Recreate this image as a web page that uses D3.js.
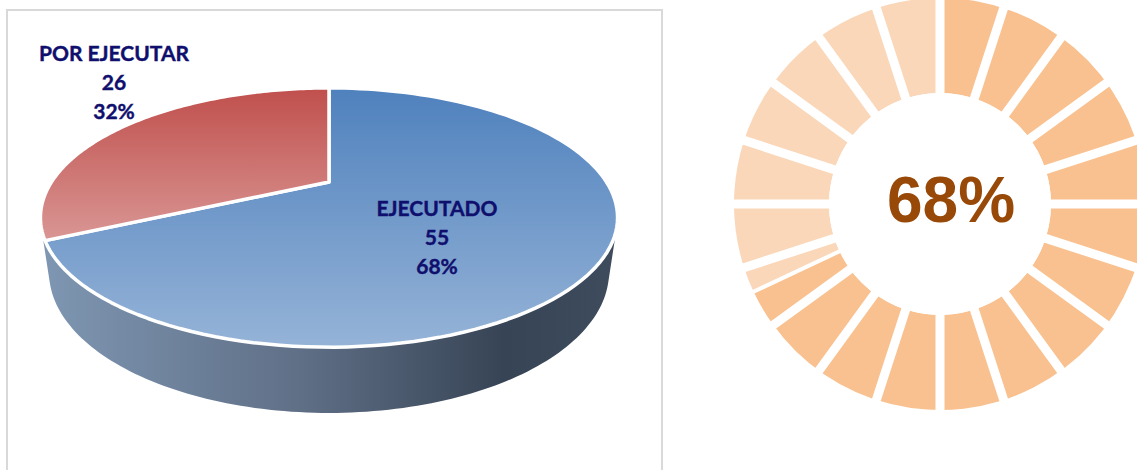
<!DOCTYPE html>
<html lang="en">
<head>
    <meta charset="UTF-8">
    <title>Avance de ejecución</title>
    <script src="https://d3js.org/d3.v7.min.js"></script>
    <style>
        body { margin: 0; background: #fff; }
        svg { display: block; }
    </style>
</head>
<body>
    <svg width="1137" height="470"></svg>

    <script>
        // data
        const categories = ["EJECUTADO", "POR EJECUTAR"];
        const values = [55, 26];
        const gaugeParts = ["Ejecutado", "Pendiente"];
        const gaugeValues = [68, 32];
        const gaugeSegments = 20;

        const svg = d3.select('svg');
        const defs = svg.append('defs');

        const total = d3.sum(values);
        const pct = values.map(v => Math.round(v / total * 100));

        // chart frame
        svg.append('rect')
            .attr('x', 7).attr('y', 10)
            .attr('width', 655).attr('height', 480)
            .attr('fill', 'none')
            .attr('stroke', '#d9d9d9')
            .attr('stroke-width', 2);

        // --- 3D pie: simple perspective camera looking down on a disc ---
        const cam = { cx: 329, cy: 182, F: 913, D: 3.29, s: 0.432, c: 0.902, h: 0.217 };
        function project(phi, r, y) {
            const X = r * Math.sin(phi), Z = r * Math.cos(phi);
            const d = cam.D + cam.c * Z - cam.s * y;
            return [cam.cx + cam.F * X / d, cam.cy - cam.F * (cam.s * Z + cam.c * y) / d];
        }

        const pie = d3.pie().sort(null);
        const arcs = pie(values);

        // gradients
        const topGrad = [
            { id: 'gBlue', from: '#4f81bd', to: '#95b3d7', y1: 88, y2: 347 },
            { id: 'gRed', from: '#c0504d', to: '#d99694', y1: 89, y2: 240 }
        ];
        topGrad.forEach(g => {
            const lg = defs.append('linearGradient').attr('id', g.id)
                .attr('gradientUnits', 'userSpaceOnUse')
                .attr('x1', 0).attr('x2', 0).attr('y1', g.y1).attr('y2', g.y2);
            lg.append('stop').attr('offset', '0%').attr('stop-color', g.from);
            lg.append('stop').attr('offset', '100%').attr('stop-color', g.to);
        });
        const sg = defs.append('linearGradient').attr('id', 'gSide')
            .attr('gradientUnits', 'userSpaceOnUse')
            .attr('x1', 40).attr('x2', 620).attr('y1', 0).attr('y2', 0);
        [['0%', '#7f97b3'], ['45%', '#5f6f86'], ['80%', '#374455'], ['100%', '#3f4c5e']]
            .forEach(([o, c]) => sg.append('stop').attr('offset', o).attr('stop-color', c));

        const fills = ['url(#gBlue)', 'url(#gRed)'];

        // visible part of the cylinder wall (front only)
        const lim = Math.acos(-1 / (cam.D * cam.c));
        const visA = lim, visB = 2 * Math.PI - lim;
        const line = d3.line();
        const steps = 120;

        const wallTop = d3.range(steps + 1).map(k => project(visA + (visB - visA) * k / steps, 1, 0));
        const wallBot = d3.range(steps + 1).map(k => project(visB - (visB - visA) * k / steps, 1, -cam.h));
        svg.append('path')
            .attr('d', line(wallTop.concat(wallBot)) + 'Z')
            .attr('fill', 'url(#gSide)');

        // top faces
        svg.selectAll('path.slice')
            .data(arcs)
            .enter().append('path')
            .attr('class', 'slice')
            .attr('d', a => {
                const pts = [project(0, 0, 0)].concat(
                    d3.range(steps + 1).map(k => project(a.startAngle + (a.endAngle - a.startAngle) * k / steps, 1, 0)));
                return line(pts) + 'Z';
            })
            .attr('fill', (a, i) => fills[i])
            .attr('stroke', '#fff')
            .attr('stroke-width', 3.5)
            .attr('stroke-linejoin', 'round');

        // labels
        const labelPos = [[437, 216], [114, 61]];
        categories.forEach((name, i) => {
            const t = svg.append('text')
                .attr('x', labelPos[i][0]).attr('y', labelPos[i][1])
                .attr('text-anchor', 'middle')
                .attr('font-family', 'Lato, sans-serif')
                .attr('font-weight', 'bold')
                .attr('font-size', 21)
                .attr('fill', '#0f0f6e')
                .attr('stroke', '#0f0f6e')
                .attr('stroke-width', 0.4);
            [name, values[i], pct[i] + '%'].forEach((s, j) => {
                t.append('tspan').attr('x', labelPos[i][0]).attr('dy', j ? 29 : 0).text(s);
            });
        });

        // --- segmented ring gauge ---
        const g = svg.append('g').attr('transform', 'translate(940,204)');
        const rIn = 111, rOut = 206;
        const ringArc = d3.arc().innerRadius(rIn).outerRadius(rOut);
        const ringPie = d3.pie().sort(null);
        const ringColors = ['#f9c18f', '#fad7b9'];

        g.selectAll('path.part')
            .data(ringPie(gaugeValues))
            .enter().append('path')
            .attr('class', 'part')
            .attr('d', ringArc)
            .attr('fill', (d, i) => ringColors[i])
            .append('title').text((d, i) => gaugeParts[i] + ': ' + gaugeValues[i] + '%');

        const ang = d3.scaleLinear().domain([0, gaugeSegments]).range([0, 2 * Math.PI]);
        g.selectAll('line.sep')
            .data(d3.range(gaugeSegments))
            .enter().append('line')
            .attr('class', 'sep')
            .attr('x1', 0).attr('y1', 0)
            .attr('x2', k => Math.sin(ang(k)) * (rOut + 10))
            .attr('y2', k => -Math.cos(ang(k)) * (rOut + 10))
            .attr('stroke', '#fff')
            .attr('stroke-width', 9);

        const split = ringPie(gaugeValues)[0].endAngle;
        g.append('line')
            .attr('x1', 0).attr('y1', 0)
            .attr('x2', Math.sin(split) * (rOut + 10))
            .attr('y2', -Math.cos(split) * (rOut + 10))
            .attr('stroke', '#fff')
            .attr('stroke-width', 4);

        g.append('circle').attr('r', rIn).attr('fill', '#fff');

        g.append('text')
            .attr('x', 11).attr('y', 18)
            .attr('text-anchor', 'middle')
            .attr('font-family', '"Liberation Sans", Arial, sans-serif')
            .attr('font-weight', 'bold')
            .attr('font-size', 64)
            .attr('fill', '#984807')
            .text(gaugeValues[0] + '%');
    </script>
</body>
</html>
